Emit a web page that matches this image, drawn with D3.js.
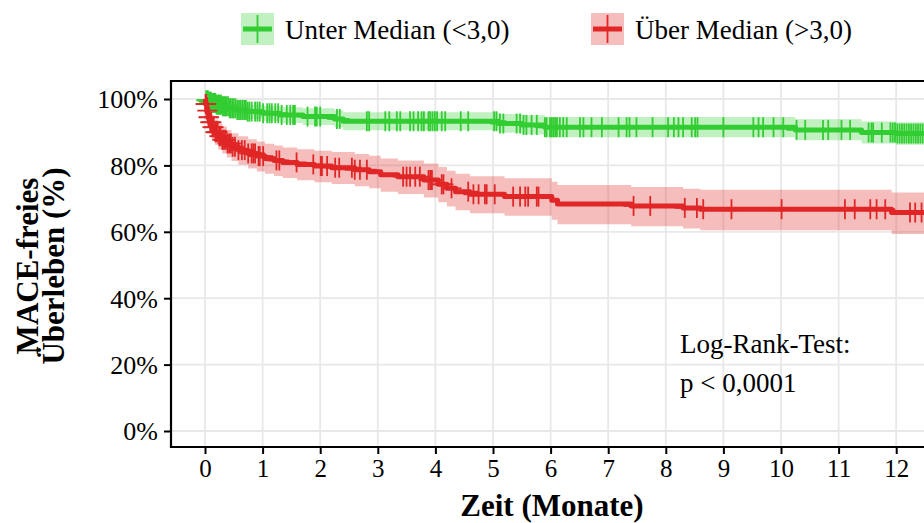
<!DOCTYPE html>
<html>
<head>
<meta charset="utf-8">
<script src="https://cdn.jsdelivr.net/npm/d3@7"></script>
<style>
  html, body { margin: 0; padding: 0; background: #fff; }
  svg { display: block; }
  text { font-family: "Liberation Serif", "Times New Roman", serif; }
</style>
</head>
<body>
<svg id="chart" width="924" height="523"></svg>
<script>
// ---------------- DATA ----------------
const groupNames = ["Unter Median (<3,0)", "Über Median (>3,0)"];
const groupColors = ["#32CD32", "#E02626"];

const xTicks = [0,1,2,3,4,5,6,7,8,9,10,11,12];
const yTicks = [0, 0.2, 0.4, 0.6, 0.8, 1.0];

// Group 1: Unter Median
const greenTime  = [0, 0.02, 0.06, 0.12, 0.2, 0.3, 0.42, 0.55, 0.72, 1.0, 1.3, 1.7, 2.25, 2.4, 5.1, 5.5, 5.9, 10.25, 11.4, 12.0, 12.8];
const greenSurv  = [1.0, 0.996, 0.992, 0.988, 0.983, 0.978, 0.972, 0.967, 0.962, 0.957, 0.952, 0.947, 0.940, 0.933, 0.926, 0.922, 0.915, 0.907, 0.899, 0.896, 0.896];
const greenLower = [1.0, 0.988, 0.981, 0.975, 0.968, 0.961, 0.953, 0.946, 0.940, 0.934, 0.928, 0.922, 0.914, 0.906, 0.898, 0.893, 0.885, 0.876, 0.866, 0.862, 0.862];
const greenUpper = [1.0, 1.0, 1.0, 0.999, 0.996, 0.993, 0.989, 0.986, 0.983, 0.979, 0.975, 0.972, 0.966, 0.960, 0.955, 0.951, 0.946, 0.939, 0.932, 0.930, 0.930];
const greenCensor = [0.02,0.04,0.05,0.07,0.09,0.1,0.12,0.14,0.16,0.18,0.2,0.22,0.24,0.26,0.28,0.31,0.33,0.35,0.37,0.4,0.43,0.45,0.48,0.5,0.53,0.56,0.59,0.62,0.65,0.68,0.71,0.74,0.77,
  0.81,0.87,0.91,0.95,1.01,1.08,1.12,1.16,1.22,1.27,1.33,1.42,1.48,1.53,1.56,1.78,1.91,1.94,2.0,2.29,2.34,2.81,2.85,3.13,3.2,3.33,3.39,3.56,3.62,3.7,3.76,3.8,3.88,3.91,3.95,3.99,4.03,4.11,4.17,4.44,4.57,
  5.02,5.06,5.12,5.18,5.41,5.47,5.53,5.58,5.67,5.76,5.9,5.93,5.99,6.02,6.05,6.08,6.11,6.16,6.22,6.28,6.51,6.57,6.71,6.89,7.18,7.32,7.37,7.49,7.77,8.04,8.14,8.22,8.3,8.45,8.51,8.55,
  9.0,9.52,9.61,9.69,9.87,10.04,10.27,10.42,10.73,10.82,11.05,11.2,11.52,11.57,11.6,11.75,11.9,11.94,11.98,12.02,12.06,12.1,12.14,12.18,12.22,12.26,12.3,12.34,12.38,12.42,12.46];

// Group 2: Über Median
const redTime  = [0, 0.01, 0.03, 0.05, 0.08, 0.12, 0.17, 0.23, 0.30, 0.38, 0.46, 0.58, 0.75, 0.90, 1.04, 1.2, 1.35, 1.6, 1.9, 2.2, 2.6, 2.85, 3.05, 3.35, 3.8, 4.05, 4.2, 4.35, 4.6, 5.2, 6.02, 6.12, 7.4, 8.3, 8.6, 11.92, 12.8];
const redSurv  = [1.0, 0.985, 0.965, 0.945, 0.930, 0.915, 0.900, 0.888, 0.877, 0.866, 0.856, 0.846, 0.836, 0.828, 0.821, 0.815, 0.809, 0.803, 0.798, 0.793, 0.787, 0.781, 0.772, 0.766, 0.756, 0.743, 0.731, 0.721, 0.713, 0.706, 0.695, 0.684, 0.678, 0.672, 0.668, 0.658, 0.658];
const redLower = [1.0, 0.965, 0.938, 0.913, 0.895, 0.878, 0.862, 0.848, 0.836, 0.824, 0.813, 0.802, 0.791, 0.782, 0.775, 0.768, 0.762, 0.755, 0.749, 0.744, 0.737, 0.731, 0.721, 0.714, 0.703, 0.689, 0.676, 0.665, 0.656, 0.648, 0.636, 0.623, 0.617, 0.610, 0.605, 0.593, 0.593];
const redUpper = [1.0, 1.0, 0.992, 0.976, 0.964, 0.951, 0.938, 0.927, 0.917, 0.907, 0.897, 0.888, 0.879, 0.872, 0.865, 0.860, 0.854, 0.849, 0.844, 0.840, 0.834, 0.829, 0.821, 0.815, 0.806, 0.795, 0.784, 0.775, 0.767, 0.761, 0.751, 0.741, 0.735, 0.730, 0.727, 0.718, 0.718];
const redCensor = [0.01,0.02,0.04,0.06,0.07,0.09,0.11,0.13,0.15,0.18,0.2,0.22,0.25,0.27,0.3,0.33,0.36,0.39,0.42,0.45,0.48,
  0.52,0.58,0.64,0.69,0.75,0.81,0.84,0.87,0.93,0.95,1.01,1.24,1.29,1.59,1.88,2.01,2.03,2.12,2.26,2.33,2.55,2.6,2.69,2.81,
  3.44,3.5,3.56,3.65,3.73,3.88,3.91,3.94,4.11,4.14,4.28,4.57,4.66,4.75,4.86,4.89,5.03,5.35,5.47,5.56,5.61,5.76,5.79,
  7.44,7.73,8.33,8.54,8.65,9.14,10.01,11.11,11.28,11.55,11.66,11.81,12.24,12.33,12.44];

const annotationLines = ["Log-Rank-Test:", "p < 0,0001"];
const xTitle = "Zeit (Monate)";
const yTitleLines = ["MACE-freies", "Überleben (%)"];

// ---------------- LAYOUT ----------------
const svg = d3.select("#chart");
const panel = { left: 171, top: 81, bottom: 447, right: 960 };

const x = d3.scaleLinear().domain([0, 12]).range([205, 896.2]);
const y = d3.scaleLinear().domain([0, 1]).range([431, 99]);

// clip
svg.append("defs").append("clipPath").attr("id", "clip")
  .append("rect").attr("x", panel.left).attr("y", panel.top)
  .attr("width", panel.right - panel.left).attr("height", panel.bottom - panel.top);

// grid
const grid = svg.append("g");
grid.selectAll(".gx").data(xTicks).join("line")
  .attr("x1", d => x(d)).attr("x2", d => x(d))
  .attr("y1", panel.top).attr("y2", panel.bottom)
  .attr("stroke", "#E8E8E8").attr("stroke-width", 1.8);
grid.selectAll(".gy").data(yTicks).join("line")
  .attr("x1", panel.left).attr("x2", panel.right)
  .attr("y1", d => y(d)).attr("y2", d => y(d))
  .attr("stroke", "#E8E8E8").attr("stroke-width", 1.8);

const groups = [
  { name: groupNames[0], color: groupColors[0], time: greenTime, surv: greenSurv, lower: greenLower, upper: greenUpper, censor: greenCensor },
  { name: groupNames[1], color: groupColors[1], time: redTime, surv: redSurv, lower: redLower, upper: redUpper, censor: redCensor }
];

const plotG = svg.append("g").attr("clip-path", "url(#clip)");

function survAt(g, t) {
  let idx = d3.bisectRight(g.time, t) - 1;
  if (idx < 0) idx = 0;
  return g.surv[idx];
}

groups.forEach(g => {
  const pts = g.time.map((t, i) => ({ t, s: g.surv[i], lo: g.lower[i], hi: g.upper[i] }));
  const area = d3.area().curve(d3.curveStepAfter)
    .x(d => x(d.t)).y0(d => y(d.lo)).y1(d => y(d.hi));
  plotG.append("path").datum(pts).attr("d", area)
    .attr("fill", g.color).attr("fill-opacity", 0.3).attr("stroke", "none");
});

groups.forEach(g => {
  const pts = g.time.map((t, i) => ({ t, s: g.surv[i] }));
  const line = d3.line().curve(d3.curveStepAfter).x(d => x(d.t)).y(d => y(d.s));
  plotG.append("path").datum(pts).attr("d", line)
    .attr("fill", "none").attr("stroke", g.color).attr("stroke-width", 5)
    .attr("stroke-linejoin", "round");
  const cs = g.censor.map(t => ({ t, s: survAt(g, t) }));
  const cg = plotG.append("g");
  cg.selectAll(".cv").data(cs).join("line")
    .attr("x1", d => x(d.t)).attr("x2", d => x(d.t))
    .attr("y1", d => y(d.s) - 10).attr("y2", d => y(d.s) + 10)
    .attr("stroke", g.color).attr("stroke-width", 1.8);
  cg.selectAll(".ch").data(cs).join("line")
    .attr("x1", d => x(d.t) - 10).attr("x2", d => x(d.t) + 10)
    .attr("y1", d => y(d.s)).attr("y2", d => y(d.s))
    .attr("stroke", g.color).attr("stroke-width", 1.8);
});

// panel border
svg.append("path")
  .attr("d", `M${panel.right},${panel.top}H${panel.left}V${panel.bottom}H${panel.right}`)
  .attr("fill", "none").attr("stroke", "#000").attr("stroke-width", 2.2);

// axes
const yAxis = svg.append("g").attr("transform", `translate(${panel.left},0)`)
  .call(d3.axisLeft(y).tickValues(yTicks).tickSize(7).tickPadding(6).tickFormat(d => Math.round(d * 100) + "%"));
yAxis.select(".domain").remove();
yAxis.selectAll(".tick line").attr("stroke", "#000").attr("stroke-width", 2);
yAxis.selectAll(".tick text").attr("font-size", 26).attr("fill", "#000")
  .attr("font-family", "Liberation Serif").attr("dy", "0.34em");

const xAxis = svg.append("g").attr("transform", `translate(0,${panel.bottom})`)
  .call(d3.axisBottom(x).tickValues(xTicks).tickSize(7).tickPadding(4).tickFormat(d3.format("d")));
xAxis.select(".domain").remove();
xAxis.selectAll(".tick line").attr("stroke", "#000").attr("stroke-width", 2);
xAxis.selectAll(".tick text").attr("font-size", 25).attr("fill", "#000")
  .attr("font-family", "Liberation Serif").attr("y", 30).attr("dy", 0);

// titles
svg.append("text").attr("x", 552).attr("y", 516).attr("text-anchor", "middle")
  .attr("font-size", 31).attr("font-weight", "bold").text(xTitle);

const yt = svg.append("text").attr("transform", "translate(0,266) rotate(-90)")
  .attr("text-anchor", "middle").attr("font-size", 31).attr("font-weight", "bold");
yt.append("tspan").attr("x", 0).attr("y", 38).text(yTitleLines[0]);
yt.append("tspan").attr("x", 0).attr("y", 64).text(yTitleLines[1]);

// annotation
annotationLines.forEach((s, i) => {
  svg.append("text").attr("x", 680).attr("y", 353 + i * 39)
    .attr("font-size", 27).attr("fill", "#000").text(s);
});

// legend
const legendItems = [
  { keyX: 241, textX: 285, g: groups[0] },
  { keyX: 591, textX: 635, g: groups[1] }
];
legendItems.forEach(it => {
  const lg = svg.append("g");
  lg.append("rect").attr("x", it.keyX).attr("y", 13).attr("width", 33).attr("height", 32)
    .attr("fill", it.g.color).attr("fill-opacity", 0.3);
  lg.append("line").attr("x1", it.keyX + 2).attr("x2", it.keyX + 31).attr("y1", 29).attr("y2", 29)
    .attr("stroke", it.g.color).attr("stroke-width", 5);
  lg.append("line").attr("x1", it.keyX + 16.5).attr("x2", it.keyX + 16.5).attr("y1", 15).attr("y2", 43)
    .attr("stroke", it.g.color).attr("stroke-width", 1.8);
  lg.append("text").attr("x", it.textX).attr("y", 39).attr("font-size", 27).attr("fill", "#000")
    .text(it.g.name);
});
</script>
</body>
</html>
